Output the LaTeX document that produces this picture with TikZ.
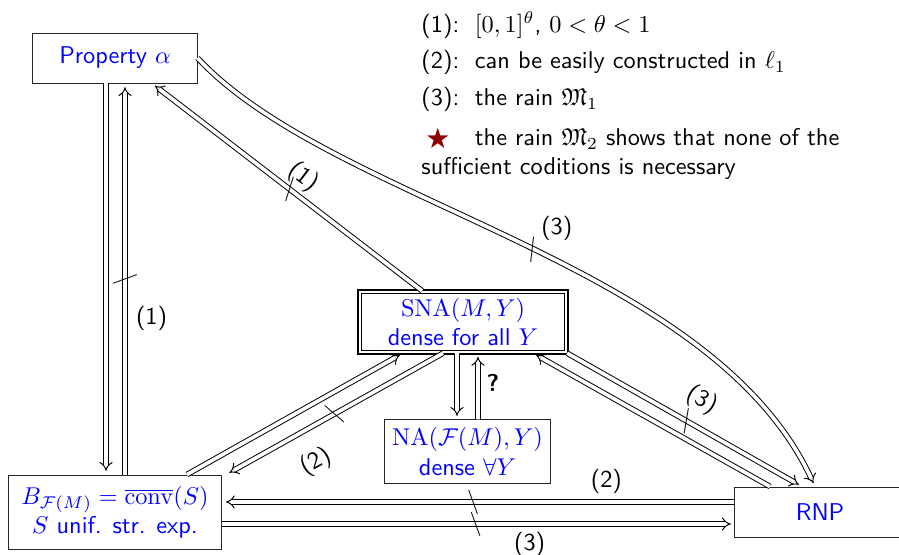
\documentclass[tikz,border=0pt]{standalone}
\usepackage{amssymb}
\usetikzlibrary{arrows.meta, calc}
\renewcommand{\familydefault}{\sfdefault}
\definecolor{starred}{RGB}{140,0,0}
\tikzset{
  box/.style={
    rectangle,
    draw=black!85,
    align=center,
    text=blue,
    inner sep=2pt
  },
  dbox/.style={
    box,
    draw=black,
    double,
    line width=0.7pt,
    double distance=0.8pt
  },
  imp/.style={double, double distance=1.5pt, -{Implies}, shorten >=1.5pt},
  negmark/.style={sloped, inner sep=0pt},
  note/.style={align=left}
}

\begin{document}
\begin{tikzpicture}[x=0.01447cm,y=-0.01447cm]
\useasboundingbox (0,0) rectangle (899,554);
\node[box, minimum width=2.373cm, minimum height=0.7235cm] (prop) at (115,58) {Property $\alpha$};
\node[dbox, minimum width=2.99cm, minimum height=0.878cm] (sna) at (463,322) {$\mathrm{SNA}(M,Y)$\\dense for all $Y$};
\node[box, minimum width=2.41cm, minimum height=0.912cm] (na) at (467.5,451.5) {$\mathrm{NA}(\mathcal{F}(M),Y)$\\dense $\forall Y$};
\node[box, minimum width=3.087cm, minimum height=1.071cm] (bset) at (115,512) {$B_{\mathcal{F}(M)}=\overline{\mathrm{conv}}(S)$\\$S$ unif. str. exp.};
\node[box, minimum width=2.46cm, minimum height=0.7235cm] (rnp) at (820,512) {RNP};
\node[note, anchor=north west, text width=6.3cm, inner sep=0pt] (legend) at (421,11) {%
\makebox[22pt][l]{(1):}$[0,1]^\theta$, $0<\theta<1$\\[3pt]
\makebox[22pt][l]{(2):}can be easily constructed in $\ell_1$\\[3.2pt]
\makebox[22pt][l]{(3):}the rain $\mathfrak{M}_1$\\[4.5pt]
\makebox[22pt][l]{\hspace{2pt}\textcolor{starred}{$\bigstar$}}the rain $\mathfrak{M}_2$ shows that none of the sufficient coditions is necessary};

\draw[imp] ($(prop.south)+(-9,0)$) -- ($(bset.north)+(-9,0)$);
\draw[imp] ($(bset.north)+(10,0)$) -- node[negmark, pos=0.5] {$\backslash$} node[note, right=1pt, pos=0.40] {(1)} ($(prop.south)+(10,0)$);
\draw[imp] ($(sna.north)+(-41,0)$) -- node[negmark, pos=0.49] {$\backslash$} node[note, sloped, above, inner sep=2pt, pos=0.48] {(1)} ($(prop.south)+(37,0)$);
\draw[imp] (prop.east) .. controls +(47:200) and +(-115:250) .. node[negmark, pos=0.52] {$\backslash$} node[note, above right, pos=0.52] {(3)} ($(rnp.north)+(-5,0)$);
\draw[imp] (sna.south east) -- node[negmark, pos=0.51] {$\backslash$} node[note, sloped, above=2pt, pos=0.52] {(3)} ($(rnp.north)+(-18,0)$);
\draw[imp] ($(rnp.north)+(-50,0)$) -- ($(sna.south)+(70,0)$);
\draw[imp] ($(sna.south)+(-6,0)$) -- ($(na.north)+(-10.5,0)$);
\draw[imp] ($(na.north)+(10.5,0)$) -- node[note, right, pos=0.55] {\textbf{?}} ($(sna.south)+(15,0)$);
\draw[imp] ($(bset.north)+(72,0)$) -- ($(sna.south)+(-60,0)$);
\draw[imp] ($(sna.south)+(-20,0)$) -- node[negmark, pos=0.5] {$\backslash$} node[note, sloped, below=5pt, pos=0.66] {(2)} ($(bset.north east)+(4,0)$);
\draw[imp] ($(rnp.west)+(0,-10)$) -- node[negmark, pos=0.51] {$\backslash$} node[note, above, pos=0.25] {(2)} ($(bset.east)+(0,-10)$);
\draw[imp] ($(bset.east)+(0,12)$) -- node[negmark, pos=0.495] {$\backslash$} node[note, below, pos=0.6] {(3)} ($(rnp.west)+(0,12)$);
\end{tikzpicture}
\end{document}
